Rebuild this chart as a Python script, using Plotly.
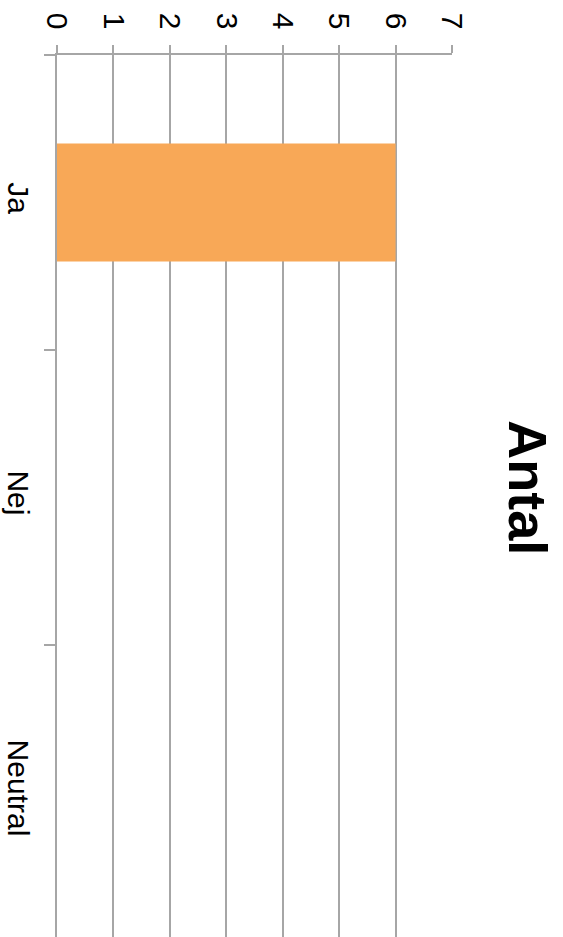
import plotly.graph_objects as go

# Answer counts per category
categories = ["Ja", "Nej", "Neutral"]
counts = [6, 0, 0]
value_ticks = [0, 1, 2, 3, 4, 5, 6, 7]

grid = "#a6a6a6"
font_family = "Liberation Sans, Arial, sans-serif"

fig = go.Figure(
    go.Bar(
        x=counts,
        y=categories,
        orientation="h",
        width=0.4,
        marker=dict(color="#f8a857", line=dict(width=0)),
    )
)

fig.update_layout(
    width=563,
    height=937,
    margin=dict(l=57, r=111, t=55, b=0),
    paper_bgcolor="white",
    plot_bgcolor="white",
    showlegend=False,
    font=dict(family=font_family, color="black", size=30),
    xaxis=dict(
        side="top",
        range=[0, 7],
        tickvals=value_ticks,
        ticktext=[str(v) for v in value_ticks],
        tickangle=90,
        showgrid=True,
        gridcolor=grid,
        gridwidth=2,
        zeroline=False,
        showline=True,
        linecolor=grid,
        linewidth=2,
        ticks="outside",
        ticklen=8,
        tickwidth=2,
        tickcolor=grid,
        tickfont=dict(size=30),
        ticklabelstandoff=5,
        fixedrange=True,
    ),
    yaxis=dict(
        categoryorder="array",
        categoryarray=categories,
        range=[2.49, -0.5],
        tickangle=90,
        tickson="boundaries",
        showgrid=False,
        zeroline=False,
        showline=True,
        linecolor=grid,
        linewidth=2,
        ticks="outside",
        ticklen=11,
        tickwidth=2,
        tickcolor=grid,
        tickfont=dict(size=30),
        ticklabelstandoff=11,
        fixedrange=True,
    ),
    annotations=[
        dict(
            text="<b>Antal</b>",
            xref="paper",
            yref="paper",
            x=1.0,
            y=0.51,
            xshift=76,
            xanchor="center",
            yanchor="middle",
            textangle=90,
            showarrow=False,
            font=dict(size=54, family=font_family, color="black"),
        )
    ],
)

fig.write_html("out.html")
